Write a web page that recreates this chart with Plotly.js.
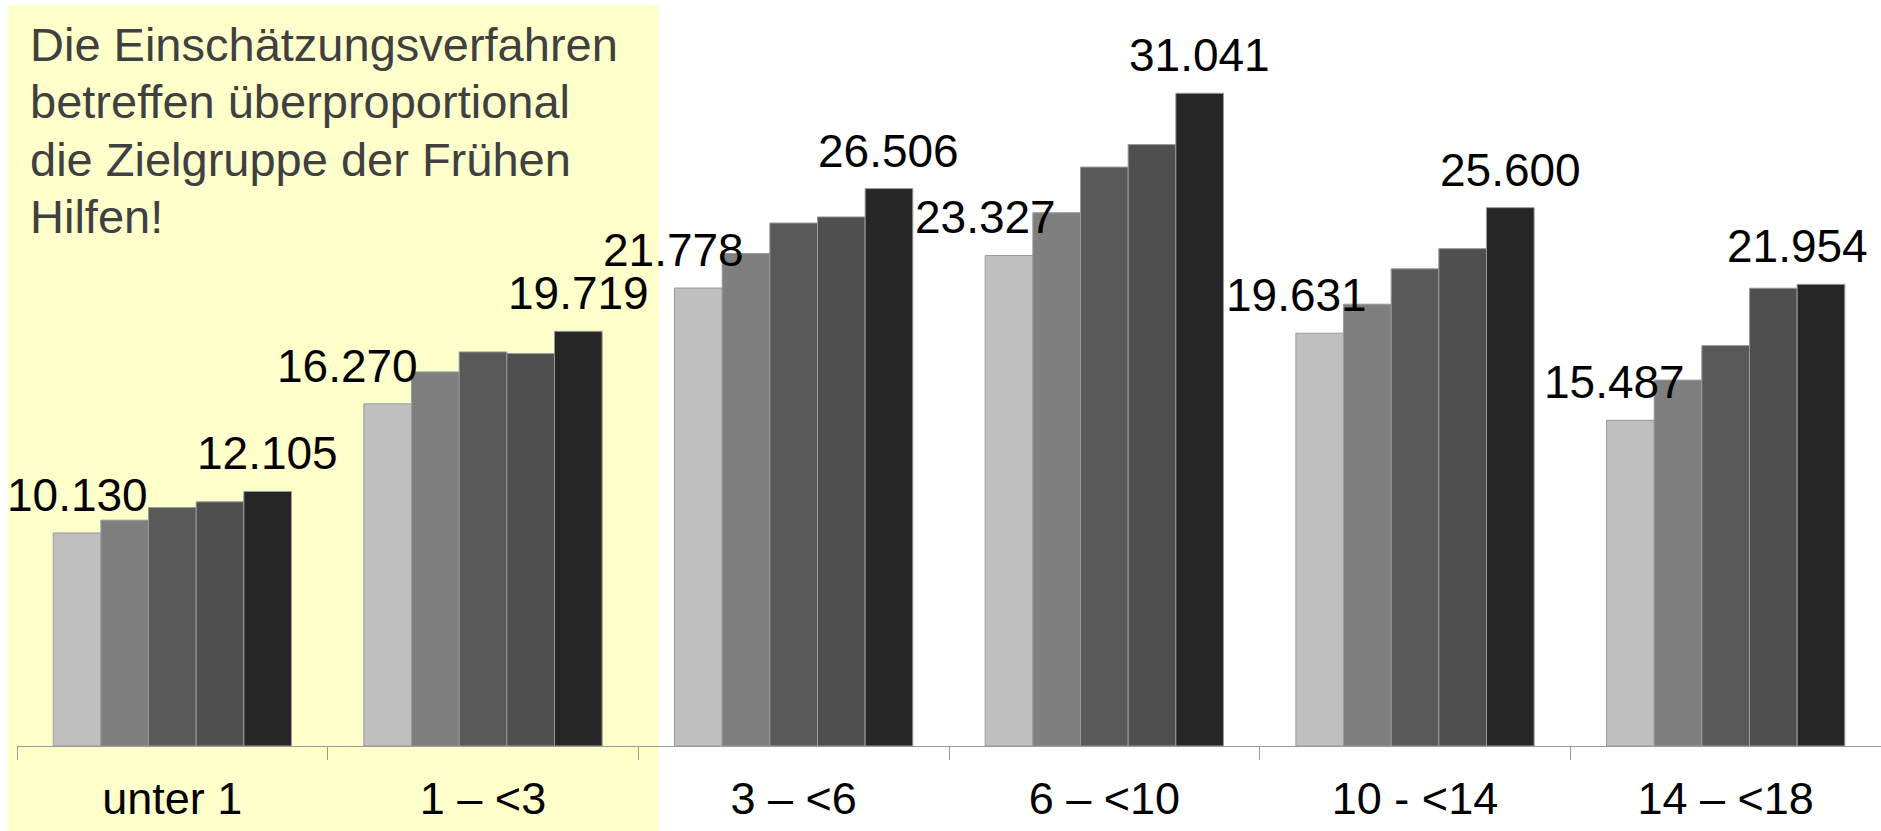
<!DOCTYPE html>
<html>
<head>
<meta charset="utf-8">
<script src="https://cdn.plot.ly/plotly-3.0.1.min.js"></script>
<style>
  html, body { margin: 0; padding: 0; background: #ffffff; }
  #chart { width: 1881px; height: 831px; }
</style>
</head>
<body>
<div id="chart"></div>
<script>
// ---- Data ----
const categories = ['unter 1', '1 – <3', '3 – <6', '6 – <10', '10 - <14', '14 – <18'];
const series1 = [10130, 16270, 21778, 23327, 19631, 15487];
const series2 = [10740, 17790, 23420, 25360, 21010, 17400];
const series3 = [11340, 18740, 24870, 27530, 22690, 19040];
const series4 = [11610, 18660, 25160, 28600, 23650, 21770];
const series5 = [12105, 19719, 26506, 31041, 25600, 21954];
const seriesNames = ['Reihe 1', 'Reihe 2', 'Reihe 3', 'Reihe 4', 'Reihe 5'];
const noteLines = [
  'Die Einschätzungsverfahren',
  'betreffen überproportional',
  'die Zielgruppe der Frühen',
  'Hilfen!'
];

// ---- Styling / layout ----
const W = 1881, H = 831;
const M = { l: 17, r: 0, t: 10, b: 85 };
const plotW = W - M.l - M.r, plotH = H - M.t - M.b;
const yMax = 35000;
const bargap = 0.233;
const colors = ['#BFBFBF', '#7F7F7F', '#595959', '#4F4F4F', '#262626'];
const FONT = 'Liberation Sans, Arial, sans-serif';
const allSeries = [series1, series2, series3, series4, series5];
// horizontal nudges of the labels (px), as placed in the reference
const firstLabelNudge = [0, -40, -25, -24, -23, -16];
const lastLabelNudge = [0, 0, 0, 0, 0, -23];

const traces = allSeries.map((vals, i) => ({
  type: 'bar',
  name: seriesNames[i],
  x: categories,
  y: vals,
  marker: { color: colors[i], line: { color: '#9a9a9a', width: 1 } },
  hoverinfo: 'x+y'
}));

function fmt(v) {
  return String(Math.round(v)).replace(/\B(?=(\d{3})+(?!\d))/g, '.');
}

const catPx = plotW / categories.length;
const barPx = catPx * (1 - bargap) / allSeries.length;
const annotations = [];
categories.forEach((c, j) => {
  annotations.push({
    x: c, y: series1[j], xref: 'x', yref: 'y',
    text: fmt(series1[j]), showarrow: false,
    xanchor: 'center', yanchor: 'bottom',
    xshift: -2 * barPx + firstLabelNudge[j], yshift: 10,
    font: { family: FONT, size: 46, color: '#000000' }
  });
  annotations.push({
    x: c, y: series5[j], xref: 'x', yref: 'y',
    text: fmt(series5[j]), showarrow: false,
    xanchor: 'center', yanchor: 'bottom',
    xshift: 2 * barPx + lastLabelNudge[j], yshift: 10,
    font: { family: FONT, size: 46, color: '#000000' }
  });
});

// note text lines (baselines in px from the top of the picture)
const noteBaselines = [62, 119, 177, 234];
const pxToPaperX = px => (px - M.l) / plotW;
const pxToPaperY = py => (H - M.b - py) / plotH;
noteLines.forEach((t, k) => {
  annotations.push({
    xref: 'paper', yref: 'paper',
    x: pxToPaperX(28), y: pxToPaperY(noteBaselines[k] + 11),
    xanchor: 'left', yanchor: 'bottom',
    text: t, showarrow: false, align: 'left',
    font: { family: FONT, size: 47, color: '#404040' }
  });
});

const layout = {
  width: W, height: H,
  margin: M,
  paper_bgcolor: '#ffffff',
  plot_bgcolor: 'rgba(0,0,0,0)',
  barmode: 'group',
  bargap: bargap,
  bargroupgap: 0,
  showlegend: false,
  xaxis: {
    type: 'category',
    range: [-0.5, categories.length - 0.5],
    automargin: false,
    tickson: 'boundaries',
    ticks: 'outside',
    ticklen: 13,
    tickwidth: 1,
    tickcolor: '#9a9a9a',
    ticklabelstandoff: 13,
    showline: true,
    linecolor: '#9a9a9a',
    linewidth: 1,
    showgrid: false,
    zeroline: false,
    tickfont: { family: FONT, size: 45, color: '#000000' },
    fixedrange: true
  },
  yaxis: {
    range: [0, yMax],
    visible: false,
    automargin: false,
    showgrid: false,
    zeroline: false,
    fixedrange: true
  },
  shapes: [{
    type: 'rect', xref: 'paper', yref: 'paper', layer: 'below',
    x0: pxToPaperX(8), x1: pxToPaperX(659),
    y0: pxToPaperY(831), y1: pxToPaperY(5),
    fillcolor: '#FFFFCC', line: { width: 0 }
  }],
  annotations: annotations
};

Plotly.newPlot('chart', traces, layout, { displayModeBar: false, staticPlot: true });
</script>
</body>
</html>
